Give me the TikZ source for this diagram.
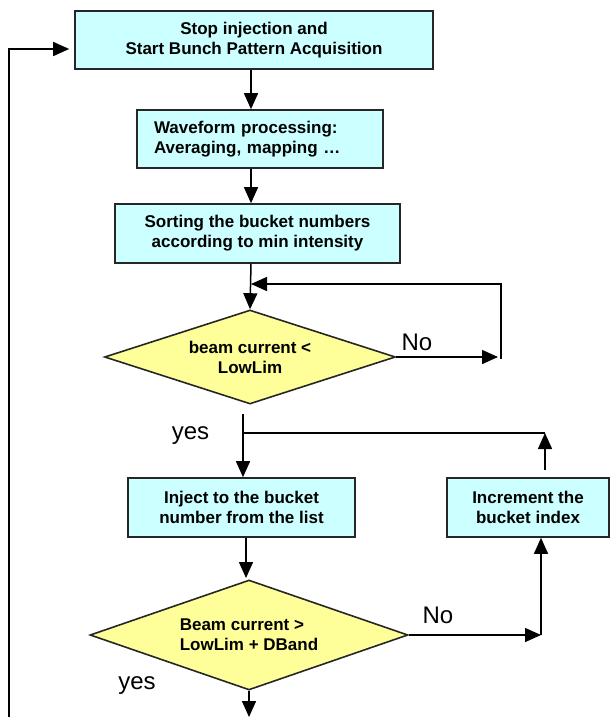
\documentclass[tikz,border=0pt]{standalone}
\usepackage{fontspec}
\setmainfont{Liberation Sans}
\usetikzlibrary{shapes.geometric,arrows.meta}
\definecolor{boxfill}{HTML}{CCFFFF}
\definecolor{diafill}{HTML}{FFFF99}
\begin{document}
\begin{tikzpicture}[x=1pt,y=-1pt,
  box/.style={draw=black!85, line width=1.6pt, fill=boxfill,
    font=\fontsize{17}{20}\selectfont\bfseries, align=center,
    inner sep=0pt, minimum height=59pt},
  dia/.style={diamond, draw=black!85, line width=1.6pt, fill=diafill,
    font=\fontsize{17}{20}\selectfont\bfseries, inner sep=0pt},
  lbl/.style={font=\fontsize{24}{28}\selectfont, anchor=base},
  conn/.style={line width=1.5pt},
  arr/.style={conn, -{Triangle[length=16pt,width=14pt]}}]
\useasboundingbox (0,0) rectangle (610,717);

% nodes
\node[box, minimum width=358pt, minimum height=58pt] (b1) at (254,40)
  {Stop injection and\\Start Bunch Pattern Acquisition};
\node[box, minimum width=246pt, minimum height=58pt, text width=212pt,
  inner xsep=17pt, align=left] (b2) at (260,139)
  {Waveform processing:\\Averaging, mapping \dots};
\node[box, minimum width=285pt] (b3) at (257.5,233.5)
  {Sorting the bucket numbers\\according to min intensity};
\node[dia, aspect=3.1, minimum width=291pt, minimum height=94pt, align=center] (d1) at (250,357)
  {beam current <\\LowLim};
\node[box, minimum width=227pt] (b4) at (241.5,507.5)
  {Inject to the bucket\\number from the list};
\node[box, minimum width=162pt] (b5) at (528,507.5)
  {Increment the\\bucket index};
\node[dia, aspect=2.89, minimum width=318pt, minimum height=110pt, align=left] (d2) at (249,635)
  {Beam current >\\LowLim + DBand};

% labels
\node[lbl] (no1) at (417,350) {No};
\node[lbl] (yes1) at (190.5,439) {yes};
\node[lbl] (no2) at (438,623) {No};
\node[lbl] (yes2) at (137,689) {yes};

% helper coordinates
\coordinate (cx) at (251,0);
\coordinate (lb) at (9,717);
\coordinate (n1) at (498,357);
\coordinate (n1a) at (501,359);
\coordinate (n1b) at (501,284);
\coordinate (y1) at (243,414);
\coordinate (y2) at (243,433);
\coordinate (y3) at (545,433);
\coordinate (y4) at (545,470);
\coordinate (b4x) at (246,0);
\coordinate (d2t) at (246,578);
\coordinate (n2) at (541,635);
\coordinate (ob) at (249,717);

% connectors
\draw[arr] (lb) |- ([yshift=-9pt,xshift=-5pt]b1.west);
\draw[arr] (b1.south -| cx) -- (b2.north -| cx);
\draw[arr] (b2.south -| cx) -- (b3.north -| cx);
\draw[arr] (b3.south -| cx) -- (d1.north);
\draw[arr] (d1.east) -- (n1);
\draw[arr] (n1a) -- (n1b) -- (cx |- n1b);
\draw[arr] (y1) -- (b4.north -| y1);
\draw[conn] (y2) -- (y3);
\draw[arr] (y4) -- (y3);
\draw[arr] (b4.south -| b4x) -- (d2t);
\draw[arr] (d2.east) -- (n2);
\draw[arr] (n2) -- (b5.south -| n2);
\draw[arr] (d2.south) -- (ob);
\end{tikzpicture}
\end{document}
